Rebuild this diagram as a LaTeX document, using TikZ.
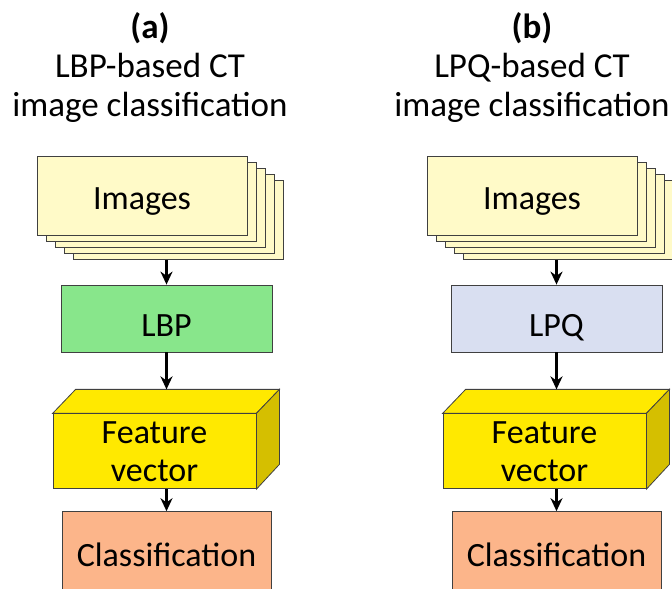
\documentclass[tikz,border=0pt]{standalone}
\usepackage{fontspec}
\setmainfont{Carlito}
\usetikzlibrary{positioning,arrows.meta,backgrounds}

\definecolor{imgcream}{HTML}{FFFAC8}
\definecolor{lbpgreen}{HTML}{88E68B}
\definecolor{lpqblue}{HTML}{D9DFF1}
\definecolor{featyellow}{HTML}{FFE900}
\definecolor{featside}{HTML}{D5BF00}
\definecolor{clsorange}{HTML}{FCB58A}

\begin{document}
\begin{tikzpicture}[x=1pt,y=1pt,
    font=\fontsize{34}{38}\selectfont,
    box/.style={draw=black!75,line width=0.8pt,inner sep=0pt,align=center},
    sheet/.style={box,fill=imgcream,minimum width=210pt,minimum height=79pt},
    procbox/.style={box,minimum width=211pt,minimum height=67pt,text height=37pt,text depth=0pt},
    featbox/.style={box,fill=featyellow,minimum width=203pt,minimum height=75pt},
    clsbox/.style={box,fill=clsorange,minimum width=209pt,minimum height=87pt},
    title/.style={align=center,font=\fontsize{35}{39}\selectfont},
    steparrow/.style={-{Stealth[length=13pt,width=12pt]},line width=3pt}]
    \useasboundingbox (0,0) rectangle (672,589);
    \clip (0,0) rectangle (672,589);

    \foreach \c/\dx/\meth/\mcol/\tx in {a/0/LBP/lbpgreen/150, b/390/LPQ/lpqblue/532} {
    \node[title] (\c-title) at (\tx,521) {\textbf{(\c)}\\\meth-based CT\\image classification};

    \node[procbox,fill=\mcol] (\c-proc) at (166.5+\dx,270.5) {\meth};
    \node[sheet,text height=28pt,text depth=0pt,above=49pt of \c-proc,xshift=-24.5pt] (\c-img) {Images};
    \begin{scope}[on background layer]
    \foreach \k in {4,3,2,1}
        \node[sheet] (\c-sheet\k) at ([shift={(9*\k,-6*\k)}]\c-img) {};
    \end{scope}
    \node[featbox,below=61pt of \c-proc,xshift=-12pt] (\c-feat) {Feature\\vector};
    \node[clsbox,below=22pt of \c-feat,xshift=12pt] (\c-cls) {Classification};

    % cuboid faces of the feature vector
    \draw[box,fill=featyellow] (\c-feat.north west) -- ++(23,24)
        -- ([shift={(23,24)}]\c-feat.north east) -- (\c-feat.north east) -- cycle;
    \draw[box,fill=featside] (\c-feat.north east) -- ++(23,24) -- ++(0,-75)
        -- (\c-feat.south east) -- cycle;
    \coordinate (\c-back) at ([yshift=24pt]\c-feat.north);

    \draw[steparrow] (\c-sheet4.south -| \c-proc.north) -- (\c-proc.north);
    \draw[steparrow] (\c-proc.south) -- (\c-proc.south |- \c-back);
    \draw[steparrow] (\c-feat.south -| \c-cls.north) -- (\c-cls.north);
    }
\end{tikzpicture}
\end{document}
